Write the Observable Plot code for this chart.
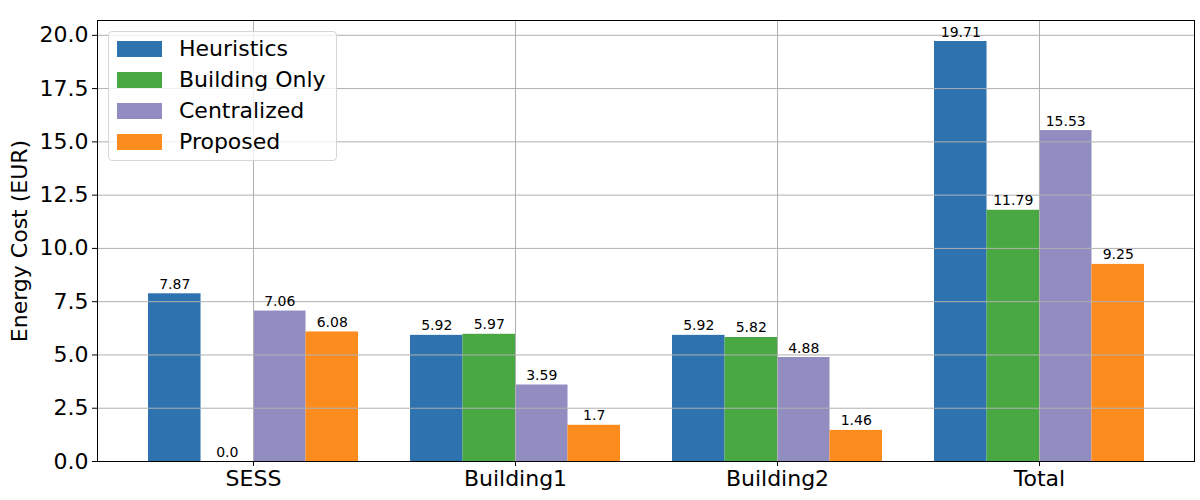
<!DOCTYPE html>
<html>
<head>
<meta charset="utf-8">
<script src="https://cdn.jsdelivr.net/npm/d3@7"></script>
<script src="https://cdn.jsdelivr.net/npm/@observablehq/plot@0.6"></script>
<style>
  body { margin: 0; background: #fff; font-family: "DejaVu Sans", sans-serif; }
  #wrap { position: relative; width: 1200px; height: 500px; }
  #legend {
    position: absolute; left: 108px; top: 31px; width: 229px; height: 130px;
    background: rgba(255,255,255,0.8); border: 1px solid #d6d6d6; border-radius: 4px;
    box-sizing: border-box; padding: 1px 0 0 8px;
  }
  .row { display: flex; align-items: center; height: 31px; }
  .sw { width: 45px; height: 16px; margin-right: 17px; }
  .lab { font-size: 22px; color: #000; line-height: 22px; }
</style>
</head>
<body>
<div id="wrap"><div id="legend"></div></div>
<script>
const categories = ["SESS", "Building1", "Building2", "Total"];
const seriesNames = ["Heuristics", "Building Only", "Centralized", "Proposed"];
const heuristics   = [7.87, 5.92, 5.92, 19.71];
const buildingOnly = [0.0, 5.97, 5.82, 11.79];
const centralized  = [7.06, 3.59, 4.88, 15.53];
const proposed     = [6.08, 1.7, 1.46, 9.25];
const yTicks = [0, 2.5, 5, 7.5, 10, 12.5, 15, 17.5, 20];
const colors = ["#2e72b0", "#4aa842", "#918dc0", "#fd8c1e"];

const seriesValues = [heuristics, buildingOnly, centralized, proposed];
const width = 1200, height = 500;
const marginLeft = 97, marginRight = 6, marginTop = 20, marginBottom = 39;
const padInner = 0.2, padOuter = 0.19;
const step = (width - marginLeft - marginRight) / (categories.length - padInner + 2 * padOuter);
const quarter = step * (1 - padInner) / seriesNames.length;
const yMax = d3.max(seriesValues.flat()) * 1.05;

const marks = [];
seriesNames.forEach((s, i) => {
  const rows = categories.map((c, j) => ({category: c, value: seriesValues[i][j]}));
  marks.push(Plot.barY(rows, {
    x: "category", y: "value", fill: colors[i],
    insetLeft: i * quarter, insetRight: (seriesNames.length - 1 - i) * quarter
  }));
});
marks.push(Plot.ruleY(yTicks, {stroke: "#b0b0b0", strokeWidth: 1}));
marks.push(Plot.ruleX(categories, {x: d => d, stroke: "#b0b0b0", strokeWidth: 1}));
seriesNames.forEach((s, i) => {
  const rows = categories.map((c, j) => ({category: c, value: seriesValues[i][j]}));
  marks.push(Plot.text(rows, {
    x: "category", y: "value", text: d => (d.value === 0 ? "0.0" : String(d.value)),
    dx: (i - (seriesNames.length - 1) / 2) * quarter, dy: -5, lineAnchor: "bottom",
    fontSize: 14, fill: "#000"
  }));
});
marks.push(Plot.frame({stroke: "#000", strokeWidth: 1}));

const chart = Plot.plot({
  width, height, marginLeft, marginRight, marginTop, marginBottom,
  style: {fontFamily: "DejaVu Sans", fontSize: "22px", color: "#000", background: "#fff"},
  x: {domain: categories, paddingInner: padInner, paddingOuter: padOuter, label: null, tickSize: 5, tickPadding: 4},
  y: {domain: [0, yMax], ticks: yTicks, tickFormat: d => d.toFixed(1), tickSize: 5, tickPadding: 4,
      label: "Energy Cost (EUR)", labelAnchor: "center", labelOffset: 86, labelArrow: "none"},
  marks
});
document.getElementById("wrap").prepend(chart);

const legend = document.getElementById("legend");
seriesNames.forEach((s, i) => {
  const row = document.createElement("div");
  row.className = "row";
  row.innerHTML = `<div class="sw" style="background:${colors[i]}"></div><div class="lab">${s}</div>`;
  legend.appendChild(row);
});
</script>
</body>
</html>
